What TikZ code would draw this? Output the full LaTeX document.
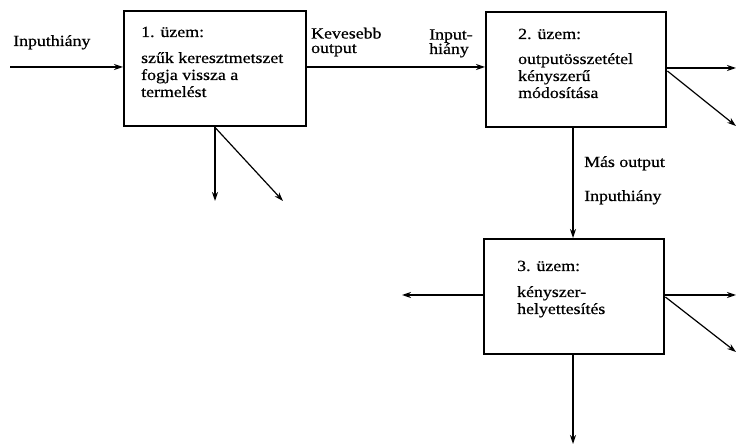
\documentclass[tikz,border=0pt]{standalone}
\usepackage{fontspec}
\setmainfont{Liberation Serif}[FakeStretch=1.15,FakeBold=0.6]
\usetikzlibrary{arrows.meta,calc}
\begin{document}
\begin{tikzpicture}[x=1pt,y=-1pt,
  box/.style={draw,line width=2.4pt,rectangle,minimum width=182pt,minimum height=115pt,anchor=north west,inner sep=0pt},
  txt/.style={align=left,anchor=base west,inner sep=0pt,font=\fontsize{15.5}{17}\selectfont},
  lbl/.style={align=left,anchor=base west,inner sep=0pt,font=\fontsize{15.5}{14.5}\selectfont},
  arr/.style={line width=1.2pt,-{Stealth[length=9pt,width=6pt]}},
  ln/.style={line width=1.2pt}]
\useasboundingbox (0,0) rectangle (737,446);
% boxes
\node[box] (b1) at (123,10) {};
\node[box,minimum width=180pt] (b2) at (485,11) {};
\node[box,minimum width=180pt] (b3) at (483,238) {};
% box texts (anchored at the baseline of the last line)
\node[txt] (t1) at (141,97) {1. üzem:\\[9pt]szűk keresztmetszet\\fogja vissza a\\termelést};
\node[txt] (t2) at (518,98) {2. üzem:\\[8pt]outputösszetétel\\kényszerű\\módosítása};
\node[txt] (t3) at (517,314) {3. üzem:\\[9pt]kényszer-\\helyettesítés};
% input to box1
\coordinate (in1) at (10,67);
\draw[arr] (in1) -- (b1.west |- in1);
\node[lbl] (l1) at (13,46) {Inputhiány};
% box1 to box2
\draw[arr] (b1.east |- 0,67) -- (b2.west |- 0,67);
\node[lbl] (l2) at (311,53) {Kevesebb\\output};
\node[lbl] (l3) at (429,54) {Input-\\hiány};
% box1 outputs
\coordinate (o1a) at (215,201);
\coordinate (o1b) at (283,201);
\draw[arr] (b1.south -| o1a) -- (o1a);
\draw[arr] (b1.south -| o1a) -- (o1b);
% box2 outputs
\coordinate (o2a) at (736,68);
\coordinate (o2b) at (736,126);
\draw[arr] (b2.east |- o2a) -- (o2a);
\draw[arr] ($(b2.east |- o2a)+(0,3)$) -- (o2b);
% box2 to box3
\draw[arr] (b2.south -| 573,0) -- (b3.north -| 573,0);
\node[lbl] (l4) at (584,167) {Más output};
\node[lbl] (l5) at (584,201) {Inputhiány};
% box3 outputs
\coordinate (o3l) at (402,295);
\coordinate (o3r) at (736,295);
\coordinate (o3d) at (736,352);
\coordinate (o3b) at (573,444);
\draw[arr] (b3.west |- o3l) -- (o3l);
\draw[arr] (b3.east |- o3r) -- (o3r);
\draw[arr] ($(b3.east |- o3r)+(0,2)$) -- (o3d);
\draw[arr] (b3.south -| o3b) -- (o3b);
\end{tikzpicture}
\end{document}
